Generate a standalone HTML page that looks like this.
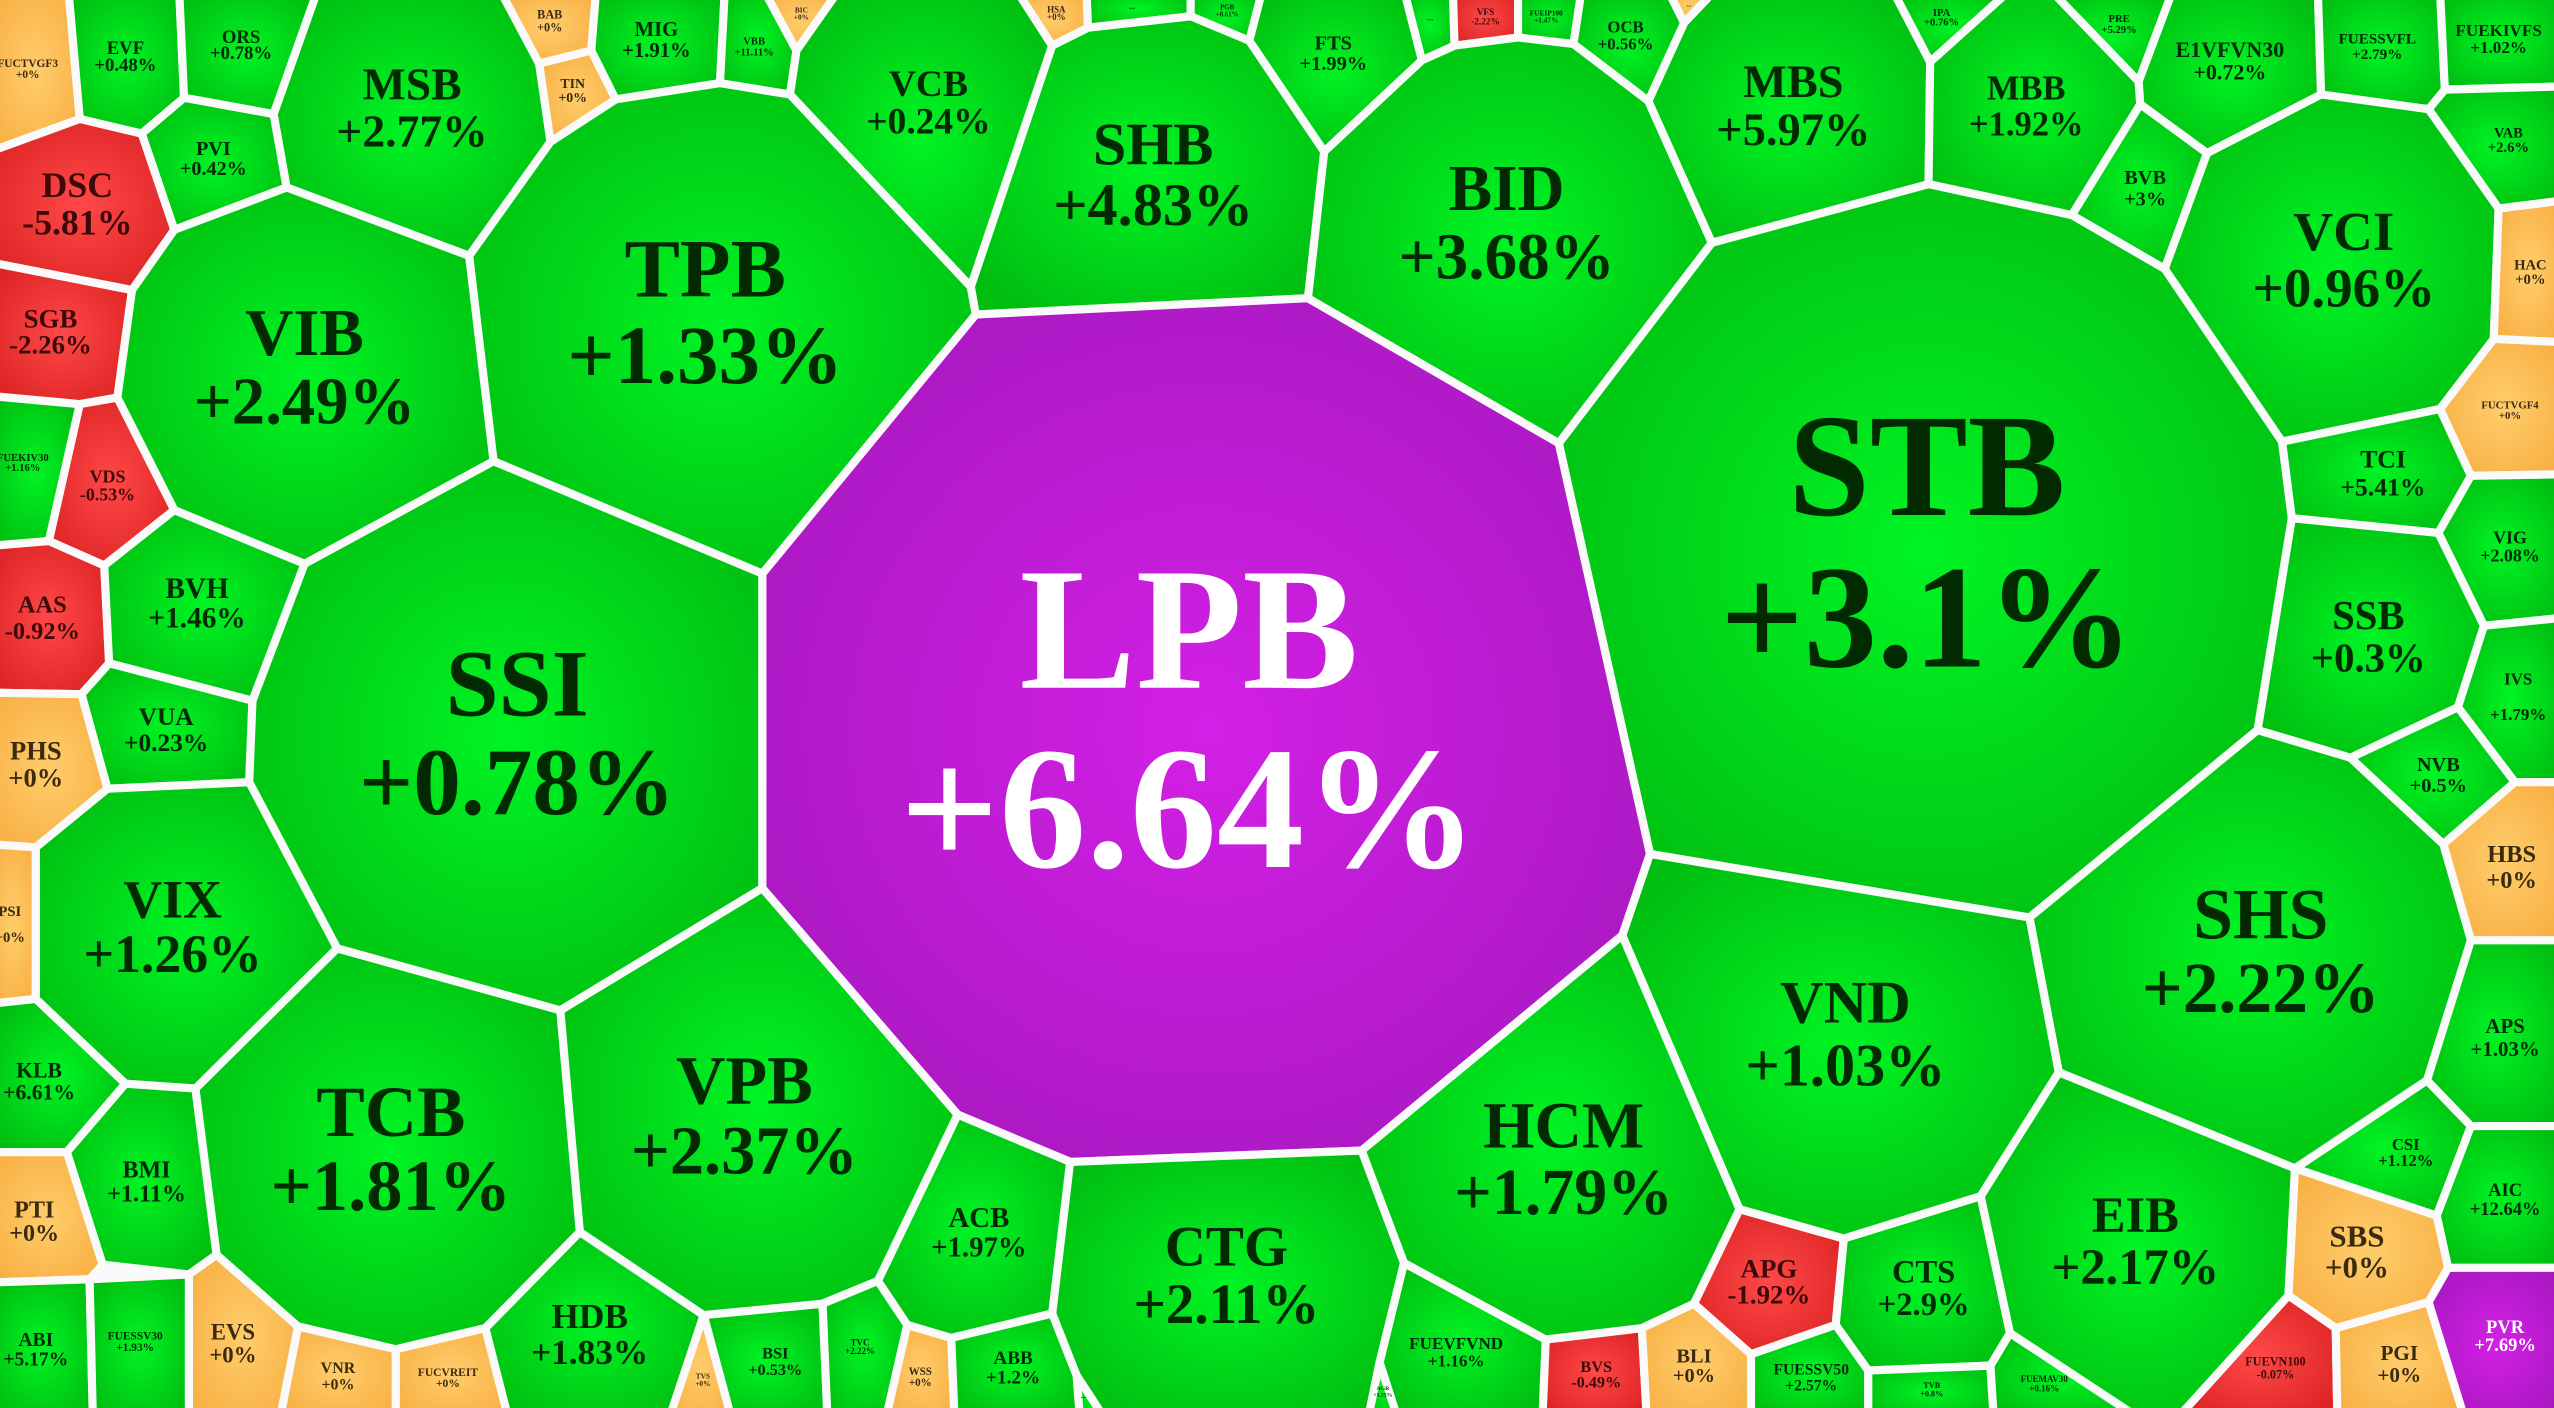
<!DOCTYPE html>
<html><head><meta charset="utf-8"><style>
html,body{margin:0;padding:0;background:#fafafa;overflow:hidden}
svg{display:block}
text{font-family:"Liberation Serif",serif;font-weight:bold;text-anchor:middle}
</style></head><body>
<svg xmlns="http://www.w3.org/2000/svg" width="2554" height="1408" viewBox="0 0 1568 864" preserveAspectRatio="none">
<defs>
<radialGradient id="G" cx="50%" cy="50%" r="60%"><stop offset="0" stop-color="#00f424"/><stop offset="1" stop-color="#00be10"/></radialGradient>
<radialGradient id="O" cx="50%" cy="50%" r="60%"><stop offset="0" stop-color="#ffcd6c"/><stop offset="1" stop-color="#f8b044"/></radialGradient>
<radialGradient id="R" cx="50%" cy="50%" r="60%"><stop offset="0" stop-color="#ff4848"/><stop offset="1" stop-color="#dc2424"/></radialGradient>
<radialGradient id="P" cx="50%" cy="50%" r="60%"><stop offset="0" stop-color="#d320e6"/><stop offset="1" stop-color="#a818c0"/></radialGradient>
</defs>
<rect x="0" y="0" width="1568" height="864" fill="#fafafa"/>
<g stroke="#fafafa" stroke-width="5" stroke-linejoin="round">
<polygon fill="url(#O)" points="-6,-6 42,-6 49,73 -6,93"/>
<polygon fill="url(#G)" points="42,-6 110,-6 113,60 87,82 49,73"/>
<polygon fill="url(#G)" points="110,-6 195,-6 168,70 113,60"/>
<polygon fill="url(#G)" points="113,60 168,70 176,115 107,141 87,82"/>
<polygon fill="url(#G)" points="195,-6 307,-6 331,39 338,87 288,157 176,115 168,70"/>
<polygon fill="url(#O)" points="307,-6 366,-6 363,31 331,39"/>
<polygon fill="url(#O)" points="331,39 363,31 378,61 338,87"/>
<polygon fill="url(#G)" points="366,-6 445,-6 442,51 378,61 363,31"/>
<polygon fill="url(#G)" points="445,-6 469,-6 489,31 485,58 442,51"/>
<polygon fill="url(#O)" points="469,-6 515,-6 489,31"/>
<polygon fill="url(#G)" points="489,31 515,-6 624,-6 646,28 596,176 485,58"/>
<polygon fill="url(#O)" points="624,-6 667,-6 668,17 646,28"/>
<polygon fill="url(#G)" points="667,-6 731,-6 731,10 668,17"/>
<polygon fill="url(#G)" points="731,-6 775,-6 767,25 731,10"/>
<polygon fill="url(#G)" points="646,28 668,17 731,10 767,25 813,93 803,183 599,193 596,176"/>
<polygon fill="url(#G)" points="767,25 775,-6 862,-6 873,37 813,93"/>
<polygon fill="url(#G)" points="862,-6 892,-6 893,28 873,37"/>
<polygon fill="url(#R)" points="892,-6 932,-6 932,23 893,28"/>
<polygon fill="url(#G)" points="932,-6 971,-6 966,27 932,23"/>
<polygon fill="url(#G)" points="966,27 971,-6 1024,-6 1034,14 1012,62"/>
<polygon fill="url(#O)" points="1024,-6 1053,-6 1034,14"/>
<polygon fill="url(#G)" points="873,37 893,28 932,23 966,27 1012,62 1051,149 957,272 803,183 813,93"/>
<polygon fill="url(#G)" points="1034,14 1053,-6 1162,-6 1185,38 1184,113 1051,149 1012,62"/>
<polygon fill="url(#G)" points="1162,-6 1234,-6 1185,38"/>
<polygon fill="url(#G)" points="1185,38 1234,-6 1259,-6 1313,50 1314,64 1272,132 1184,113"/>
<polygon fill="url(#G)" points="1259,-6 1334,-6 1313,50"/>
<polygon fill="url(#G)" points="1334,-6 1423,-6 1425,58 1355,94 1314,64 1313,50"/>
<polygon fill="url(#G)" points="1314,64 1355,94 1329,165 1272,132"/>
<polygon fill="url(#G)" points="1423,-6 1498,-6 1501,55 1491,67 1425,58"/>
<polygon fill="url(#G)" points="1498,-6 1574,-6 1574,53 1501,55"/>
<polygon fill="url(#G)" points="1491,67 1501,55 1574,53 1574,123 1534,128"/>
<polygon fill="url(#G)" points="1355,94 1425,58 1491,67 1534,128 1531,208 1498,251 1401,271 1329,165"/>
<polygon fill="url(#O)" points="1534,128 1574,123 1574,210 1531,208"/>
<polygon fill="url(#O)" points="1531,208 1574,210 1574,291 1517,292 1498,251"/>
<polygon fill="url(#G)" points="1401,271 1498,251 1517,292 1497,327 1407,318"/>
<polygon fill="url(#G)" points="1517,292 1574,291 1574,379 1525,384 1497,327"/>
<polygon fill="url(#G)" points="1407,318 1497,327 1525,384 1509,434 1443,465 1386,448"/>
<polygon fill="url(#G)" points="1525,384 1574,379 1574,480 1544,480 1509,434"/>
<polygon fill="url(#G)" points="1443,465 1509,434 1544,480 1500,518"/>
<polygon fill="url(#O)" points="1500,518 1544,480 1574,480 1574,577 1517,577"/>
<polygon fill="url(#G)" points="957,272 1051,149 1184,113 1272,132 1329,165 1401,271 1407,318 1386,448 1246,563 1013,524"/>
<polygon fill="url(#P)" points="599,193 803,183 957,272 1013,524 996,574 836,706 657,713 588,684 468,545 468,352"/>
<polygon fill="url(#G)" points="338,87 378,61 442,51 485,58 596,176 599,193 468,352 303,283 288,157"/>
<polygon fill="url(#G)" points="176,115 288,157 303,283 187,346 107,313 72,244 81,178 107,141"/>
<polygon fill="url(#R)" points="-6,93 49,73 87,82 107,141 81,178 -6,161"/>
<polygon fill="url(#R)" points="-6,161 81,178 72,244 49,248 -6,243"/>
<polygon fill="url(#G)" points="-6,243 49,248 30,332 -6,335"/>
<polygon fill="url(#R)" points="49,248 72,244 107,313 64,347 30,332"/>
<polygon fill="url(#R)" points="-6,335 30,332 64,347 67,407 50,426 -6,425"/>
<polygon fill="url(#G)" points="64,347 107,313 187,346 155,430 67,407"/>
<polygon fill="url(#G)" points="50,426 67,407 155,430 153,480 66,484"/>
<polygon fill="url(#O)" points="-6,425 50,426 66,484 22,520 -6,518"/>
<polygon fill="url(#O)" points="-6,518 22,520 22,613 -6,616"/>
<polygon fill="url(#G)" points="187,346 303,283 468,352 468,545 344,620 207,582 153,480 155,430"/>
<polygon fill="url(#G)" points="22,520 66,484 153,480 207,582 120,668 77,665 22,613"/>
<polygon fill="url(#G)" points="-6,616 22,613 77,665 41,707 -6,707"/>
<polygon fill="url(#G)" points="41,707 77,665 120,668 133,770 116,782 63,776"/>
<polygon fill="url(#O)" points="-6,707 41,707 63,776 55,785 -6,787"/>
<polygon fill="url(#G)" points="-6,787 55,785 57,870 -6,870"/>
<polygon fill="url(#G)" points="55,785 116,782 116,870 57,870"/>
<polygon fill="url(#O)" points="116,782 133,770 183,814 172,870 116,870"/>
<polygon fill="url(#G)" points="207,582 344,620 356,756 298,815 243,828 183,814 133,770 120,668"/>
<polygon fill="url(#O)" points="183,814 243,828 243,870 172,870"/>
<polygon fill="url(#O)" points="243,828 298,815 312,870 243,870"/>
<polygon fill="url(#G)" points="298,815 356,756 432,807 411,870 312,870"/>
<polygon fill="url(#O)" points="432,807 449,870 411,870"/>
<polygon fill="url(#G)" points="432,807 505,800 508,870 449,870"/>
<polygon fill="url(#G)" points="468,545 588,684 539,786 505,800 432,807 356,756 344,620"/>
<polygon fill="url(#G)" points="505,800 539,786 557,813 544,870 508,870"/>
<polygon fill="url(#O)" points="557,813 584,821 586,870 544,870"/>
<polygon fill="url(#G)" points="588,684 657,713 646,806 584,821 557,813 539,786"/>
<polygon fill="url(#G)" points="584,821 646,806 661,844 663,870 586,870"/>
<polygon fill="url(#G)" points="661,844 678,870 663,870"/>
<polygon fill="url(#G)" points="657,713 836,706 862,775 847,836 840,870 678,870 661,844 646,806"/>
<polygon fill="url(#G)" points="847,836 858,870 840,870"/>
<polygon fill="url(#G)" points="862,775 949,822 947,870 858,870 847,836"/>
<polygon fill="url(#G)" points="836,706 996,574 1068,742 1040,800 1008,815 949,822 862,775"/>
<polygon fill="url(#R)" points="949,822 1008,815 1011,870 947,870"/>
<polygon fill="url(#O)" points="1008,815 1040,800 1075,831 1075,870 1011,870"/>
<polygon fill="url(#R)" points="1068,742 1132,760 1127,813 1075,831 1040,800"/>
<polygon fill="url(#G)" points="1075,831 1127,813 1147,841 1147,870 1075,870"/>
<polygon fill="url(#G)" points="1132,760 1216,734 1234,818 1222,838 1147,841 1127,813"/>
<polygon fill="url(#G)" points="1147,841 1222,838 1224,870 1147,870"/>
<polygon fill="url(#G)" points="1222,838 1234,818 1313,870 1224,870"/>
<polygon fill="url(#G)" points="1013,524 1246,563 1264,658 1216,734 1132,760 1068,742 996,574"/>
<polygon fill="url(#G)" points="1246,563 1386,448 1443,465 1500,518 1517,577 1490,663 1409,717 1264,658"/>
<polygon fill="url(#G)" points="1264,658 1409,717 1405,795 1337,870 1313,870 1234,818 1216,734"/>
<polygon fill="url(#G)" points="1517,577 1574,577 1574,691 1517,691 1490,663"/>
<polygon fill="url(#G)" points="1409,717 1490,663 1517,691 1496,746"/>
<polygon fill="url(#G)" points="1517,691 1574,691 1574,778 1503,778 1496,746"/>
<polygon fill="url(#O)" points="1409,717 1496,746 1503,778 1491,799 1434,815 1405,795"/>
<polygon fill="url(#R)" points="1405,795 1434,815 1435,870 1337,870"/>
<polygon fill="url(#O)" points="1434,815 1491,799 1513,870 1435,870"/>
<polygon fill="url(#P)" points="1491,799 1503,778 1574,778 1574,870 1513,870"/>
</g>

<!-- green labels -->
<g fill="#012a01">
<text x="1183" y="316" font-size="90">STB</text><text x="1183" y="409" font-size="90">+3.1%</text>
<text x="317.5" y="439" font-size="58.5">SSI</text><text x="317.5" y="499.5" font-size="58.5">+0.78%</text>
<text x="433" y="182" font-size="51">TPB</text><text x="433" y="235" font-size="51">+1.33%</text>
<text x="187" y="218" font-size="41">VIB</text><text x="187" y="260" font-size="41">+2.49%</text>
<text x="253" y="61" font-size="28">MSB</text><text x="253" y="90" font-size="28">+2.77%</text>
<text x="570" y="59" font-size="23">VCB</text><text x="570" y="82" font-size="23">+0.24%</text>
<text x="708" y="101" font-size="37">SHB</text><text x="708" y="138" font-size="37">+4.83%</text>
<text x="925" y="129" font-size="40">BID</text><text x="925" y="171" font-size="40">+3.68%</text>
<text x="1101" y="59.5" font-size="28.5">MBS</text><text x="1101" y="89" font-size="28.5">+5.97%</text>
<text x="1244" y="61" font-size="21.2">MBB</text><text x="1244" y="83" font-size="21.2">+1.92%</text>
<text x="1439" y="153.5" font-size="33.8">VCI</text><text x="1439" y="188" font-size="33.8">+0.96%</text>
<text x="240" y="697" font-size="44.5">TCB</text><text x="240" y="742.5" font-size="44.5">+1.81%</text>
<text x="457" y="677" font-size="42">VPB</text><text x="457" y="720" font-size="42">+2.37%</text>
<text x="106" y="563" font-size="33">VIX</text><text x="106" y="596.5" font-size="33">+1.26%</text>
<text x="753" y="776.5" font-size="35">CTG</text><text x="753" y="812" font-size="35">+2.11%</text>
<text x="960" y="704" font-size="40.5">HCM</text><text x="960" y="745" font-size="40.5">+1.79%</text>
<text x="1133" y="627.5" font-size="37">VND</text><text x="1133" y="666" font-size="37">+1.03%</text>
<text x="1388" y="576" font-size="44">SHS</text><text x="1388" y="621" font-size="44">+2.22%</text>
<text x="1311" y="756" font-size="31">EIB</text><text x="1311" y="788" font-size="31">+2.17%</text>
<text x="1454" y="386" font-size="25">SSB</text><text x="1454" y="412" font-size="25">+0.3%</text>
<text x="1181" y="787" font-size="20">CTS</text><text x="1181" y="807" font-size="20">+2.9%</text>
<text x="601" y="753" font-size="17.7">ACB</text><text x="601" y="771" font-size="17.7">+1.97%</text>
<text x="362" y="815" font-size="21.7">HDB</text><text x="362" y="837" font-size="21.7">+1.83%</text>
<text x="121" y="367" font-size="18">BVH</text><text x="121" y="385" font-size="18">+1.46%</text>
<text x="102" y="445" font-size="15.6">VUA</text><text x="102" y="461" font-size="15.6">+0.23%</text>
<text x="1463" y="287" font-size="15.8">TCI</text><text x="1463" y="304" font-size="15.8">+5.41%</text>
<text x="1497" y="473" font-size="12.5">NVB</text><text x="1497" y="486" font-size="12.5">+0.5%</text>
<text x="1538" y="634" font-size="12.8">APS</text><text x="1538" y="648" font-size="12.8">+1.03%</text>
<text x="1477" y="705.6" font-size="10.2">CSI</text><text x="1477" y="715.6" font-size="10.2">+1.12%</text>
<text x="1538" y="734" font-size="11.4">AIC</text><text x="1538" y="745.5" font-size="11.4">+12.64%</text>
<text x="1112" y="843.5" font-size="9.6">FUESSV50</text><text x="1112" y="853.4" font-size="9.6">+2.57%</text>
<text x="1186" y="851.7" font-size="5">TVB</text><text x="1186" y="857" font-size="5">+0.8%</text>
<text x="1255" y="848" font-size="5.5">FUEMAV30</text><text x="1255" y="854" font-size="5.5">+0.16%</text>
<text x="894" y="827.7" font-size="10.5">FUEVFVND</text><text x="894" y="838.6" font-size="10.5">+1.16%</text>
<text x="849" y="853" font-size="3.5">AGR</text><text x="849" y="857" font-size="3.5">+1.25%</text>
<text x="622" y="837" font-size="11.8">ABB</text><text x="622" y="849" font-size="11.8">+1.2%</text>
<text x="665" y="858" font-size="4">...</text>
<text x="528" y="825.5" font-size="5.5">TVC</text><text x="528" y="831" font-size="5.5">+2.22%</text>
<text x="476" y="833.7" font-size="10">BSI</text><text x="476" y="843.7" font-size="10">+0.53%</text>
<text x="83" y="822" font-size="7">FUESSV30</text><text x="83" y="829" font-size="7">+1.93%</text>
<text x="22" y="826" font-size="12">ABI</text><text x="22" y="838" font-size="12">+5.17%</text>
<text x="90" y="722.5" font-size="14.8">BMI</text><text x="90" y="737.3" font-size="14.8">+1.11%</text>
<text x="24" y="661.3" font-size="13.3">KLB</text><text x="24" y="674.7" font-size="13.3">+6.61%</text>
<text x="14" y="283" font-size="6.5">FUEKIV30</text><text x="14" y="289" font-size="6.5">+1.16%</text>
<text x="131" y="95" font-size="12.4">PVI</text><text x="131" y="107.5" font-size="12.4">+0.42%</text>
<text x="77" y="33" font-size="11.5">EVF</text><text x="77" y="43.5" font-size="11.5">+0.48%</text>
<text x="148" y="26.3" font-size="11.5">ORS</text><text x="148" y="36.2" font-size="11.5">+0.78%</text>
<text x="403" y="22" font-size="12.7">MIG</text><text x="403" y="35" font-size="12.7">+1.91%</text>
<text x="463" y="27.4" font-size="6.5">VBB</text><text x="463" y="34" font-size="6.5">+11.11%</text>
<text x="695" y="5.5" font-size="5">...</text>
<text x="753.4" y="5.7" font-size="4.2">PGB</text><text x="753.4" y="10.2" font-size="4.2">+0.61%</text>
<text x="818.6" y="30.3" font-size="12.5">FTS</text><text x="818.6" y="43" font-size="12.5">+1.99%</text>
<text x="878" y="12.7" font-size="5">...</text>
<text x="949.3" y="9.6" font-size="4.5">FUEIP100</text><text x="949.3" y="13.7" font-size="4.5">+1.47%</text>
<text x="998" y="19.8" font-size="10.3">OCB</text><text x="998" y="30.3" font-size="10.3">+0.56%</text>
<text x="1192" y="9.9" font-size="6.5">IPA</text><text x="1192" y="15.8" font-size="6.5">+0.76%</text>
<text x="1301" y="13.6" font-size="6.5">PRE</text><text x="1301" y="20.2" font-size="6.5">+5.29%</text>
<text x="1369" y="35" font-size="13.5">E1VFVN30</text><text x="1369" y="48.7" font-size="13.5">+0.72%</text>
<text x="1317" y="113" font-size="12.5">BVB</text><text x="1317" y="126" font-size="12.5">+3%</text>
<text x="1459.5" y="26.7" font-size="9.3">FUESSVFL</text><text x="1459.5" y="36.2" font-size="9.3">+2.79%</text>
<text x="1534" y="22" font-size="10.5">FUEKIVFS</text><text x="1534" y="32.4" font-size="10.5">+1.02%</text>
<text x="1540" y="84.4" font-size="9">VAB</text><text x="1540" y="93.2" font-size="9">+2.6%</text>
<text x="1541" y="333.5" font-size="11">VIG</text><text x="1541" y="344.5" font-size="11">+2.08%</text>
<text x="1546" y="420" font-size="10.4">IVS</text><text x="1546" y="441.7" font-size="10.4">+1.79%</text>
</g>

<!-- red labels -->
<g fill="#3d0a0a">
<text x="47.5" y="121" font-size="22">DSC</text><text x="47.5" y="144" font-size="22">-5.81%</text>
<text x="31" y="201" font-size="16.5">SGB</text><text x="31" y="217" font-size="16.5">-2.26%</text>
<text x="66" y="296" font-size="11">VDS</text><text x="66" y="307" font-size="11">-0.53%</text>
<text x="26" y="376" font-size="15">AAS</text><text x="26" y="392" font-size="15">-0.92%</text>
<text x="912" y="9.2" font-size="5.7">VFS</text><text x="912" y="14.9" font-size="5.7">-2.22%</text>
<text x="1086" y="784" font-size="16.5">APG</text><text x="1086" y="800" font-size="16.5">-1.92%</text>
<text x="980" y="842" font-size="10">BVS</text><text x="980" y="851.3" font-size="10">-0.49%</text>
<text x="1397" y="838" font-size="7.5">FUEVN100</text><text x="1397" y="846" font-size="7.5">-0.07%</text>
</g>

<!-- orange labels -->
<g fill="#3a2a0e">
<text x="17" y="41" font-size="7">FUCTVGF3</text><text x="17" y="48" font-size="7">+0%</text>
<text x="337.5" y="11.4" font-size="7.5">BAB</text><text x="337.5" y="19.3" font-size="7.5">+0%</text>
<text x="351.6" y="54" font-size="8.5">TIN</text><text x="351.6" y="62.5" font-size="8.5">+0%</text>
<text x="492" y="7.7" font-size="4.5">BIC</text><text x="492" y="12" font-size="4.5">+0%</text>
<text x="648.5" y="7.6" font-size="5.5">HSA</text><text x="648.5" y="12.3" font-size="5.5">+0%</text>
<text x="1037" y="4" font-size="4">...</text>
<text x="1553.5" y="165.5" font-size="9">HAC</text><text x="1553.5" y="174.3" font-size="9">+0%</text>
<text x="1541" y="250.6" font-size="6.6">FUCTVGF4</text><text x="1541" y="257" font-size="6.6">+0%</text>
<text x="1542" y="529" font-size="15">HBS</text><text x="1542" y="545" font-size="15">+0%</text>
<text x="22" y="466" font-size="16.3">PHS</text><text x="22" y="482.5" font-size="16.3">+0%</text>
<text x="6" y="562" font-size="9">PSI</text><text x="6" y="578" font-size="9">+0%</text>
<text x="21" y="747" font-size="14.8">PTI</text><text x="21" y="761.4" font-size="14.8">+0%</text>
<text x="143" y="822" font-size="14">EVS</text><text x="143" y="836" font-size="14">+0%</text>
<text x="207.5" y="842.6" font-size="9.8">VNR</text><text x="207.5" y="852.6" font-size="9.8">+0%</text>
<text x="275" y="844.4" font-size="7.1">FUCVREIT</text><text x="275" y="851" font-size="7.1">+0%</text>
<text x="431.5" y="846" font-size="4.5">TVS</text><text x="431.5" y="850.4" font-size="4.5">+0%</text>
<text x="565" y="843.7" font-size="6.8">WSS</text><text x="565" y="850.4" font-size="6.8">+0%</text>
<text x="1040" y="836" font-size="12.5">BLI</text><text x="1040" y="848" font-size="12.5">+0%</text>
<text x="1447" y="765" font-size="19">SBS</text><text x="1447" y="784" font-size="19">+0%</text>
<text x="1473" y="834.5" font-size="13">PGI</text><text x="1473" y="848" font-size="13">+0%</text>
</g>

<!-- purple labels -->
<g fill="#ffffff">
<text x="730" y="422" font-size="107">LPB</text><text x="730" y="532" font-size="107">+6.64%</text>
<text x="1538" y="818" font-size="11.4">PVR</text><text x="1538" y="829" font-size="11.4">+7.69%</text>
</g>
</svg>
</body></html>
